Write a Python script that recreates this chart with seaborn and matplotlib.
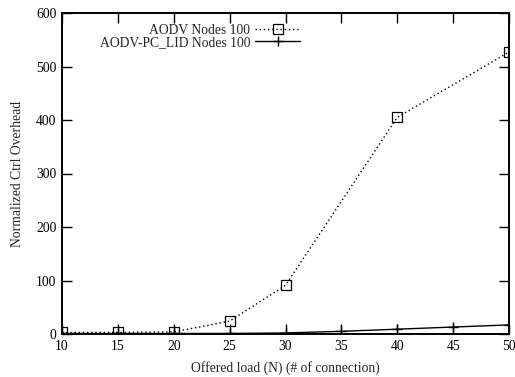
import matplotlib
matplotlib.use("Agg")
import matplotlib.pyplot as plt
import seaborn as sns
import pandas as pd

sns.set_style("ticks")
plt.rcParams['font.family'] = ['Liberation Serif', 'DejaVu Serif']

load_aodv = [10, 15, 20, 25, 30, 40, 50]
aodv = [3, 3, 4, 24, 91, 405, 527]

load_pclid = [10, 15, 20, 25, 30, 35, 40, 45, 50]
pclid = [1, 1, 1, 1, 2, 5, 9, 13, 17]

x_ticks = [10, 15, 20, 25, 30, 35, 40, 45, 50]
y_ticks = [0, 100, 200, 300, 400, 500, 600]

FS = 9.8

fig = plt.figure(figsize=(5.15, 3.77), dpi=100)
ax = fig.add_axes([62/515, 43/377, 447/515, 321/377])

df_a = pd.DataFrame({"load": load_aodv, "val": aodv})
df_p = pd.DataFrame({"load": load_pclid, "val": pclid})

sns.lineplot(data=df_a, x="load", y="val", ax=ax, color="black", linewidth=1.0,
             linestyle=(0, (1, 2)), marker="s", markersize=6.5,
             markerfacecolor="none", markeredgecolor="black", markeredgewidth=0.9,
             label="AODV Nodes 100")
sns.lineplot(data=df_p, x="load", y="val", ax=ax, color="black", linewidth=1.0,
             linestyle="-", marker="+", markersize=7, markeredgecolor="black",
             markeredgewidth=1.0, label="AODV-PC_LID Nodes 100")

ax.set_xlim(10, 50)
ax.set_ylim(0, 600)
ax.set_xticks(x_ticks)
ax.set_yticks(y_ticks)
ax.tick_params(direction="in", length=7, width=1.0, top=True, right=True,
               labelsize=FS, pad=4, colors="black")
for s in ax.spines.values():
    s.set_linewidth(1.4)
    s.set_color("black")
    s.set_visible(True)

ax.set_xlabel("Offered load (N) (# of connection)", fontsize=FS, labelpad=6)
ax.set_ylabel("Normalized Ctrl Overhead", fontsize=FS, labelpad=9)

leg = ax.legend(loc="upper right", bbox_to_anchor=((300 - 62) / 447, 0.966),
                frameon=False, fontsize=FS, markerfirst=False, handlelength=3.3,
                handletextpad=0.35, labelspacing=-0.05, borderaxespad=0,
                borderpad=0)
leg._legend_box.align = "right"

fig.savefig("out.png", dpi=100)
